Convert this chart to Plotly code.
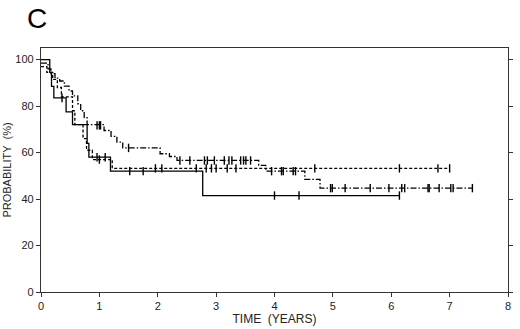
import plotly.graph_objects as go

# Solid curve (step changes)
solid_t = [0, 0.15, 0.18, 0.22, 0.43, 0.54, 0.79, 0.82, 1.19, 2.77, 6.14]
solid_p = [100, 94.5, 88.5, 83.5, 77.5, 72, 64, 58, 52, 41.5, 41.5]
solid_cens_t = [0.36, 0.96, 1.10, 1.52, 1.75, 4.00, 4.42, 6.14]
solid_cens_p = [83.5, 58, 58, 52, 52, 41.5, 41.5, 41.5]

# Dashed curve
dash_t = [0, 0.10, 0.20, 0.28, 0.35, 0.54, 0.58, 0.72, 0.78, 0.88, 1.22, 7.0]
dash_p = [97, 94.5, 91.5, 88, 84, 78, 72, 66, 61, 57, 53.2, 53.2]
dash_cens_t = [1.0, 1.96, 2.07, 2.66, 2.83, 2.92, 3.0, 3.19, 3.34, 4.69, 6.14, 6.8, 7.0]
dash_cens_p = [57, 53.2, 53.2, 53.2, 53.2, 53.2, 53.2, 53.2, 53.2, 53.2, 53.2, 53.2, 53.2]

# Dash-dot curve
dd_t = [0, 0.12, 0.17, 0.24, 0.32, 0.40, 0.48, 0.54, 0.63, 0.68, 0.74, 0.79,
        1.08, 1.20, 1.30, 1.40, 2.04, 2.20, 2.33, 3.73, 3.85, 4.52, 4.78, 7.39]
dd_p = [98.5, 96, 94, 92, 90.8, 88.6, 86.5, 84.4, 81, 78, 75, 72,
        69.5, 67, 64.5, 62, 59.5, 58.3, 56.6, 54.5, 52, 48.5, 44.7, 44.7]
dd_cens_t = [0.96, 1.0, 1.02, 1.5, 2.38, 2.55, 2.8, 2.85, 2.97, 3.14, 3.22, 3.27,
             3.42, 3.47, 3.51, 3.59, 3.95, 4.12, 4.15, 4.32, 4.36, 4.96, 4.99,
             5.21, 5.64, 5.96, 6.18, 6.23, 6.63, 6.65, 6.82, 7.02, 7.06, 7.39]
dd_cens_p = [71.7, 71.7, 71.7, 62, 56.6, 56.6, 56.6, 56.6, 56.6, 56.6, 56.6, 56.6,
             56.6, 56.6, 56.6, 56.6, 52, 52, 52, 52, 52, 44.7, 44.7,
             44.7, 44.7, 44.7, 44.7, 44.7, 44.7, 44.7, 44.7, 44.7, 44.7, 44.7]

x_ticks = [0, 1, 2, 3, 4, 5, 6, 7, 8]
y_ticks = [0, 20, 40, 60, 80, 100]

fig = go.Figure()
curves = [
    (solid_t, solid_p, solid_cens_t, solid_cens_p, "solid"),
    (dash_t, dash_p, dash_cens_t, dash_cens_p, "3px,2px"),
    (dd_t, dd_p, dd_cens_t, dd_cens_p, "6px,2px,1.5px,2px"),
]
for t, p, ct, cp, ds in curves:
    fig.add_trace(go.Scatter(x=t, y=p, mode="lines", line_shape="hv",
                             line=dict(color="black", width=1.3, dash=ds),
                             showlegend=False, hoverinfo="skip"))
    fig.add_trace(go.Scatter(x=ct, y=cp, mode="markers",
                             marker=dict(symbol="line-ns", size=6,
                                         line=dict(color="black", width=1.4)),
                             showlegend=False, hoverinfo="skip"))

font_family = "Liberation Sans, Arial, sans-serif"
fig.update_layout(
    width=520, height=329,
    margin=dict(l=39, r=7, t=48, b=34),
    paper_bgcolor="white", plot_bgcolor="white",
    font=dict(family=font_family, size=11, color="#222"),
    xaxis=dict(range=[0, 8], tickvals=x_ticks, ticks="outside", ticklen=4,
               tickwidth=1, tickcolor="#333", showline=True, linecolor="#333",
               linewidth=1.2, mirror=True, showgrid=False, zeroline=False,
               title=dict(text="TIME  (YEARS)", font=dict(size=12), standoff=1),
               tickfont=dict(size=11)),
    yaxis=dict(range=[0, 105], tickvals=y_ticks, ticks="outside", ticklen=4,
               tickwidth=1, tickcolor="#333", showline=True, linecolor="#333",
               linewidth=1.2, mirror="ticks", showgrid=False, zeroline=False,
               title=dict(text="PROBABILITY  (%)", font=dict(size=11), standoff=1),
               tickfont=dict(size=11)),
)
fig.add_annotation(text="C", xref="paper", yref="paper",
                   x=-0.009, y=1.121, xanchor="center", yanchor="middle",
                   showarrow=False, font=dict(size=28, family=font_family, color="black"))

fig.write_html("out.html", config={"displayModeBar": False},
               post_script="document.body.style.margin='0';document.body.style.padding='0';")
